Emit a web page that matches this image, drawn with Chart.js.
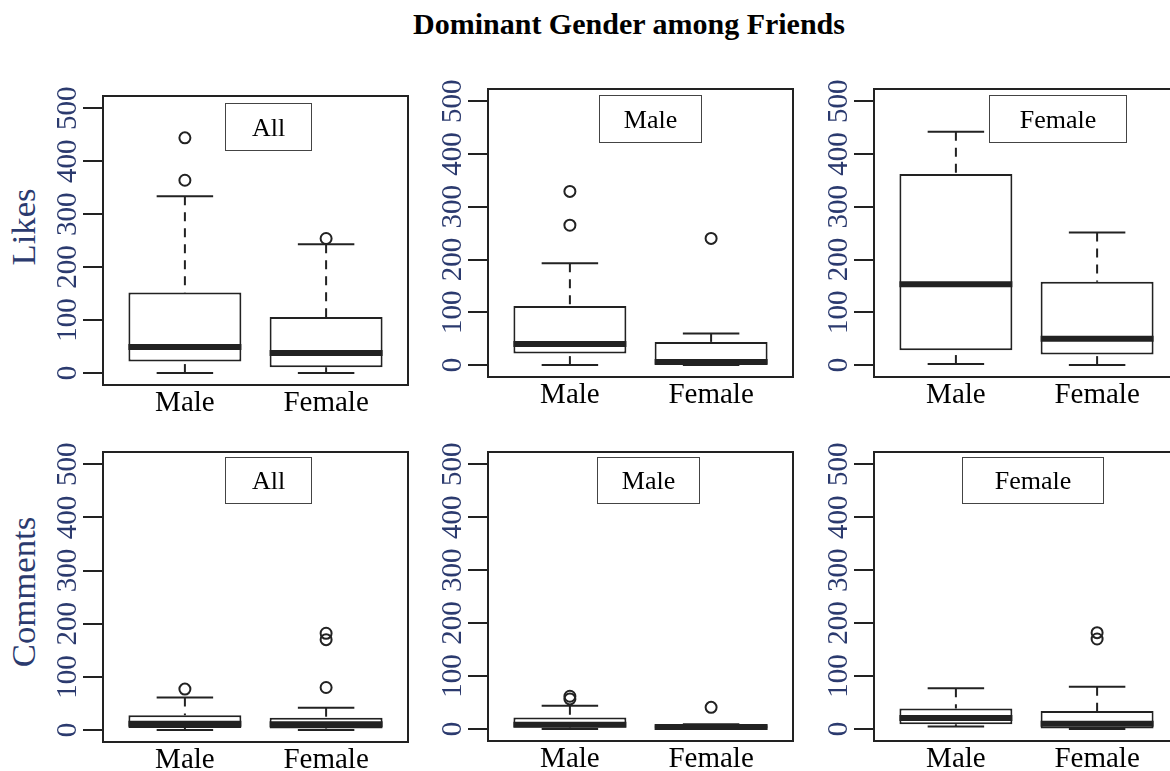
<!DOCTYPE html>
<html>
<head>
<meta charset="utf-8">
<script src="https://cdn.jsdelivr.net/npm/chart.js@4.4.1/dist/chart.umd.min.js"></script>
<style>
  html, body { margin: 0; padding: 0; background: #fff; }
  body { width: 1170px; height: 771px; position: relative; overflow: hidden;
         font-family: 'Liberation Serif', 'Times New Roman', serif; }
  canvas { position: absolute; }
  .main-title { position: absolute; left: 629px; top: 9px; transform: translateX(-50%);
                font-weight: bold; font-size: 30px; line-height: 30px; white-space: nowrap; color: #000; }
  .row-label { position: absolute; font-size: 34.7px; line-height: 34.7px; white-space: nowrap;
               color: #2b3a6e; transform: translate(-50%, -50%) rotate(-90deg); }
</style>
</head>
<body>
<div class="main-title">Dominant Gender among Friends</div>
<div class="row-label" style="left:24px; top:227px">Likes</div>
<div class="row-label" style="left:24px; top:592px">Comments</div>
<script>
// Groups on the x axis and the subset shown in each column
const groups = ['Male', 'Female'];
const panelTitles = ['All', 'Male', 'Female'];
const yTicks = [0, 100, 200, 300, 400, 500];

// Likes: one [Male, Female] pair per column (All, Male, Female)
const likesLow    = [[0, 0], [0, 0], [2, 0]];
const likesQ1     = [[22, 11], [22, 2], [28, 20]];
const likesMedian = [[49, 38], [40, 6], [153, 50]];
const likesQ3     = [[152, 106], [112, 44], [362, 158]];
const likesHigh   = [[334, 243], [193, 60], [442, 251]];
const likesOut    = [[[364, 444], [254]], [[265, 329], [240]], [[], []]];

// Comments: one [Male, Female] pair per column (All, Male, Female)
const commentsLow    = [[0, 0], [0, 0], [5, 0]];
const commentsQ1     = [[4, 3], [3, 1], [9, 1]];
const commentsMedian = [[12, 11], [8, 4], [21, 10]];
const commentsQ3     = [[28, 23], [22, 7], [39, 34]];
const commentsHigh   = [[61, 42], [44, 9], [77, 80]];
const commentsOut    = [[[77], [80, 170, 182]], [[57, 62], [41]], [[], [170, 182]]];

// ---- layout and styling ----
const INK = '#222';
const AXIS_INK = '#2b3a6e';
const SERIF = "'Liberation Serif', 'Times New Roman', serif";
const X_MIN = 0.42, X_MAX = 2.58;     // room around the two groups
const Y_MIN = -22.5, Y_MAX = 523;
const BOX_HALF = 0.4, CAP_HALF = 0.2;
const AXIS_W = 60, PAD_TOP = 30, PAD_RIGHT = 25, XAXIS_H = 45;

// plot rectangles (page pixels) for the 2 x 3 grid
const frames = [
  { left: 103, top: 96,  width: 305, height: 289 },
  { left: 488, top: 89,  width: 305, height: 288 },
  { left: 874, top: 89,  width: 305, height: 288 },
  { left: 103, top: 452, width: 305, height: 290 },
  { left: 488, top: 452, width: 305, height: 289 },
  { left: 874, top: 452, width: 305, height: 289 }
];
// legend box placement inside each plot
const legendBoxes = [
  { dx: 122, dy: 7, w: 86,  h: 47 },
  { dx: 111, dy: 6, w: 102, h: 47 },
  { dx: 115, dy: 6, w: 137, h: 47 },
  { dx: 122, dy: 5, w: 86,  h: 46 },
  { dx: 109, dy: 5, w: 102, h: 46 },
  { dx: 88,  dy: 5, w: 141, h: 46 }
];

Chart.defaults.font.family = SERIF;
Chart.defaults.color = '#000';

function whiskerPlugin(stats, legend, title) {
  return {
    id: 'whiskers',
    afterDatasetsDraw(chart) {
      const { ctx, chartArea: a, scales: { x, y } } = chart;
      const seg = (x1, y1, x2, y2) => { ctx.beginPath(); ctx.moveTo(x1, y1); ctx.lineTo(x2, y2); ctx.stroke(); };
      ctx.save();
      ctx.strokeStyle = INK;
      ctx.lineCap = 'butt';
      stats.median.forEach((m, g) => {
        const pos = g + 1;
        const xc = x.getPixelForValue(pos);
        const cL = x.getPixelForValue(pos - CAP_HALF), cR = x.getPixelForValue(pos + CAP_HALF);
        const bL = x.getPixelForValue(pos - BOX_HALF), bR = x.getPixelForValue(pos + BOX_HALF);
        const yHigh = y.getPixelForValue(stats.high[g]), yLow = y.getPixelForValue(stats.low[g]);
        const yQ1 = y.getPixelForValue(stats.q1[g]), yQ3 = y.getPixelForValue(stats.q3[g]);
        ctx.lineWidth = 2;
        ctx.setLineDash([9, 7]);
        seg(xc, yHigh, xc, yQ3);
        seg(xc, yLow, xc, yQ1);
        ctx.setLineDash([]);
        seg(cL, yHigh, cR, yHigh);
        seg(cL, yLow, cR, yLow);
        ctx.lineWidth = 6;
        const yMed = y.getPixelForValue(m);
        seg(bL, yMed, bR, yMed);
      });
      // plot frame
      ctx.lineWidth = 2;
      ctx.strokeRect(a.left, a.top, a.right - a.left, a.bottom - a.top);
      // legend box with the subset name
      ctx.lineWidth = 1;
      ctx.strokeStyle = '#444';
      const lx = Math.round(a.left + legend.dx) + 0.5, ly = Math.round(a.top + legend.dy) + 0.5;
      ctx.fillStyle = '#fff';
      ctx.fillRect(lx, ly, legend.w, legend.h);
      ctx.strokeRect(lx, ly, legend.w, legend.h);
      ctx.fillStyle = '#000';
      ctx.font = '26px ' + SERIF;
      ctx.textAlign = 'center';
      ctx.textBaseline = 'middle';
      ctx.fillText(title, lx + legend.w / 2, ly + legend.h / 2 + 2);
      ctx.restore();
    }
  };
}

function makePanel(p) {
  const col = p % 3;
  const isLikes = p < 3;
  const stats = isLikes
    ? { low: likesLow[col], q1: likesQ1[col], median: likesMedian[col], q3: likesQ3[col], high: likesHigh[col], out: likesOut[col] }
    : { low: commentsLow[col], q1: commentsQ1[col], median: commentsMedian[col], q3: commentsQ3[col], high: commentsHigh[col], out: commentsOut[col] };
  const f = frames[p];

  const canvas = document.createElement('canvas');
  const cw = f.width + AXIS_W + PAD_RIGHT, ch = f.height + PAD_TOP + XAXIS_H;
  canvas.width = cw; canvas.height = ch;
  canvas.style.width = cw + 'px'; canvas.style.height = ch + 'px';
  canvas.style.left = (f.left - AXIS_W) + 'px';
  canvas.style.top = (f.top - PAD_TOP) + 'px';
  document.body.appendChild(canvas);

  const boxes = groups.map((g, i) => ({ x: i + 1, y: [stats.q1[i], stats.q3[i]] }));
  const outliers = [];
  groups.forEach((g, i) => stats.out[i].forEach(v => outliers.push({ x: i + 1, y: v })));

  return new Chart(canvas, {
    type: 'bar',
    data: {
      datasets: [
        {
          type: 'bar', label: 'box', data: boxes,
          backgroundColor: '#fff', borderColor: INK, borderWidth: 2, borderSkipped: false,
          barPercentage: 1, categoryPercentage: 0.8
        },
        {
          type: 'scatter', label: 'outliers', data: outliers,
          pointRadius: 5.5, pointBorderWidth: 2, pointBorderColor: INK,
          pointBackgroundColor: 'rgba(0,0,0,0)', pointStyle: 'circle'
        }
      ]
    },
    options: {
      responsive: false,
      animation: false,
      devicePixelRatio: 1,
      events: [],
      layout: { padding: { top: PAD_TOP, right: PAD_RIGHT, left: 0, bottom: 0 } },
      plugins: { legend: { display: false }, tooltip: { enabled: false }, title: { display: false } },
      scales: {
        x: {
          type: 'linear', min: X_MIN, max: X_MAX, offset: false,
          grid: { display: false, drawTicks: false },
          border: { display: false },
          afterBuildTicks: s => { s.ticks = groups.map((g, i) => ({ value: i + 1 })); },
          afterFit: s => { s.height = XAXIS_H; },
          ticks: {
            autoSkip: false, minRotation: 0, maxRotation: 0, padding: 1,
            color: '#000', font: { size: 29, family: SERIF },
            callback: v => groups[Math.round(v) - 1]
          }
        },
        y: {
          type: 'linear', min: Y_MIN, max: Y_MAX, beginAtZero: false,
          grid: { display: true, drawOnChartArea: false, drawTicks: true, tickLength: 20,
                  color: INK, tickColor: INK, lineWidth: 2, tickWidth: 2 },
          border: { display: false },
          afterBuildTicks: s => { s.ticks = yTicks.map(v => ({ value: v })); },
          afterFit: s => { s.width = AXIS_W; },
          ticks: {
            autoSkip: false, minRotation: 90, maxRotation: 90, crossAlign: 'center', padding: -7,
            color: AXIS_INK, font: { size: 29, family: SERIF },
            callback: v => String(v)
          }
        }
      }
    },
    plugins: [whiskerPlugin(stats, legendBoxes[p], panelTitles[col])]
  });
}

for (let p = 0; p < 6; p++) makePanel(p);
</script>
</body>
</html>
